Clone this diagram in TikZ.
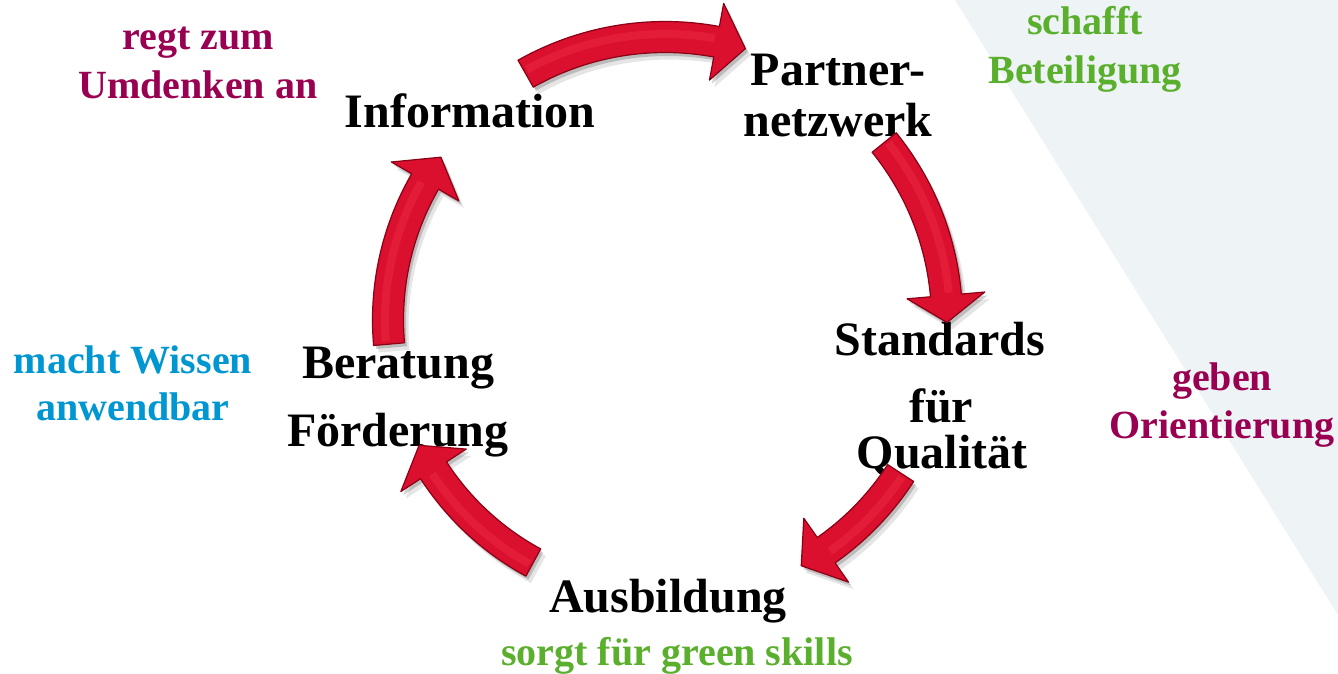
\documentclass[tikz,border=0pt]{standalone}
\usepackage{fontspec}
\setmainfont{Liberation Serif}
\definecolor{bgc}{RGB}{238,243,246}
\definecolor{pur}{RGB}{153,0,82}
\definecolor{blu}{RGB}{0,150,210}
\definecolor{grn}{RGB}{90,175,45}
\definecolor{ared}{RGB}{218,16,46}
\definecolor{ahi}{RGB}{236,40,64}
\definecolor{aedge}{RGB}{140,0,22}
\newcommand{\arrowpath}[5]{% style, a1, a2, a3, r
  \pgfmathsetmacro\ri{#5-15.5}\pgfmathsetmacro\ro{#5+15.5}%
  \pgfmathsetmacro\hi{#5-39}\pgfmathsetmacro\ho{#5+39}%
  \path[#1] (#2:\ri) arc[start angle=#2,end angle=#3,radius=\ri] -- (#3:\hi) -- (#4:#5) -- (#3:\ho) -- (#3:\ro) arc[start angle=#3,end angle=#2,radius=\ro] -- cycle;}
\newcommand{\cycarrow}[4]{%
  \arrowpath{fill=black,opacity=0.10,shift={(5,7)}}{#1}{#2}{#3}{#4}%
  \arrowpath{fill=black,opacity=0.18,shift={(2.5,3.5)}}{#1}{#2}{#3}{#4}%
  \arrowpath{fill=ared,draw=aedge,line width=0.6pt,line join=round}{#1}{#2}{#3}{#4}%
  \pgfmathsetmacro\rh{#4+3}%
  \pgfmathsetmacro\ae{#2-0.5}%
  \draw[ahi,opacity=0.55,line width=4pt] (#1+0.6:\rh) arc[start angle=#1+0.6,end angle=\ae,radius=\rh];}
\begin{document}
\begin{tikzpicture}[x=0.5pt,y=-0.5pt,
  main/.style={font=\fontsize{24}{28}\selectfont\bfseries,anchor=base,inner sep=0pt,text=black},
  lab/.style={font=\fontsize{20}{24}\selectfont\bfseries,anchor=base,inner sep=0pt}]
\useasboundingbox (0,0) rectangle (1338,674);
\fill[white] (0,0) rectangle (1338,674);
\fill[bgc] (955,0) -- (1338,0) -- (1338,615) -- cycle;

% main texts
\node[main] (info) at (470,127) {Information};
\node[main] (pn1) at (838,86) {Partner-};
\node[main] (pn2) at (838,136) {netzwerk};
\node[main] (st1) at (940,355) {Standards};
\node[main] (st2) at (941,422) {für};
\node[main] (st3) at (942,468) {Qualität};
\node[main] (aus) at (668,612) {Ausbildung};
\node[main] (ber) at (398,378) {Beratung};
\node[main] (foe) at (398,446) {Förderung};

% side labels
\node[lab,text=pur] (l1a) at (198,50) {regt zum};
\node[lab,text=pur] (l1b) at (198,99) {Umdenken an};
\node[lab,text=grn] (l2a) at (1085,35) {schafft};
\node[lab,text=grn] (l2b) at (1085,84) {Beteiligung};
\node[lab,text=pur] (l3a) at (1222,390) {geben};
\node[lab,text=pur] (l3b) at (1222,438) {Orientierung};
\node[lab,text=blu] (l4a) at (133,373) {macht Wissen};
\node[lab,text=blu] (l4b) at (133,420) {anwendbar};
\node[lab,text=grn] (l5) at (677,665) {sorgt für green skills};

% cycle arrows
\begin{scope}[shift={(665,320)}]
  \cycarrow{-119.5}{-79.5}{-73.5}{283}
  \cycarrow{-39}{-5}{0.5}{282}
  \cycarrow{33}{55}{61}{281}
  \cycarrow{118.5}{147}{153}{276}
  \cycarrow{175}{210}{216}{277}
\end{scope}
\end{tikzpicture}
\end{document}
